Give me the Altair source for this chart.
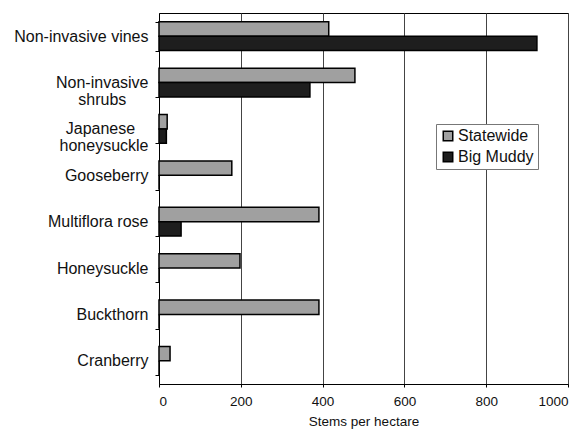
import altair as alt
import pandas as pd

categories = ["Non-invasive vines", "Non-invasive|shrubs", "Japanese|honeysuckle",
              "Gooseberry", "Multiflora rose", "Honeysuckle", "Buckthorn", "Cranberry"]
statewide = [415, 479, 20, 178, 391, 198, 391, 27]
big_muddy = [924, 369, 18, 0, 54, 0, 0, 0]
series = ["Statewide", "Big Muddy"]
x_ticks = [0, 200, 400, 600, 800, 1000]

NB = "\u00a0"
WJ = "\u2060"
display = [c for c in categories]
display[1] = "Non-invasive|shrubs" + NB * 5 + WJ
display[2] = "Japanese" + NB * 3 + WJ + "|honeysuckle"

rows = []
for i, c in enumerate(display):
    rows.append({"cat": c, "series": series[0], "value": statewide[i]})
    rows.append({"cat": c, "series": series[1], "value": big_muddy[i]})
df = pd.DataFrame(rows)

FONT = "Liberation Sans"

chart = alt.Chart(df).mark_bar(stroke="black", strokeWidth=1.5).encode(
    y=alt.Y("cat:N", sort=display, title=None,
            scale=alt.Scale(paddingInner=0.38, paddingOuter=0.19),
            axis=alt.Axis(labelExpr="datum.value ? split(datum.value, '|') : ''",
                          tickBand="extent",
                          labelFontSize=16, labelFont=FONT, labelColor="#111",
                          labelLineHeight=17, tickSize=4, labelPadding=7,
                          domainColor="black", tickColor="black", grid=False,
                          labelLimit=200)),
    yOffset=alt.YOffset("series:N", sort=series),
    x=alt.X("value:Q", title="Stems per hectare",
            scale=alt.Scale(domain=[0, 1000], nice=False),
            axis=alt.Axis(values=x_ticks, format="d", grid=True, gridColor="#444", gridWidth=1,
                          domainColor="black", tickColor="black", tickSize=3,
                          labelFontSize=13.5, labelFont=FONT, labelColor="#111",
                          titleFontSize=13.5, titleFont=FONT, titleFontWeight="normal",
                          titleColor="#111", titlePadding=7, labelPadding=7)),
    color=alt.Color("series:N", sort=series,
                    scale=alt.Scale(domain=series, range=["#a0a0a0", "#1e1e1e"]),
                    legend=alt.Legend(title=None, orient="none", legendX=277, legendY=111,
                                      symbolType="square", symbolSize=90,
                                      symbolStrokeColor="black", symbolStrokeWidth=1.5,
                                      labelFontSize=16, labelFont=FONT,
                                      labelColor="#111", rowPadding=5,
                                      strokeColor="#777", padding=4, fillColor="white",
                                      labelOffset=2)),
).properties(
    width=409, height=371,
    autosize=alt.AutoSizeParams(type="none"),
    padding={"left": 151, "top": 5, "right": 10, "bottom": 48},
).configure_view(stroke="black", strokeWidth=1)

chart.save("out.html", embed_options={"renderer": "svg", "actions": False})
